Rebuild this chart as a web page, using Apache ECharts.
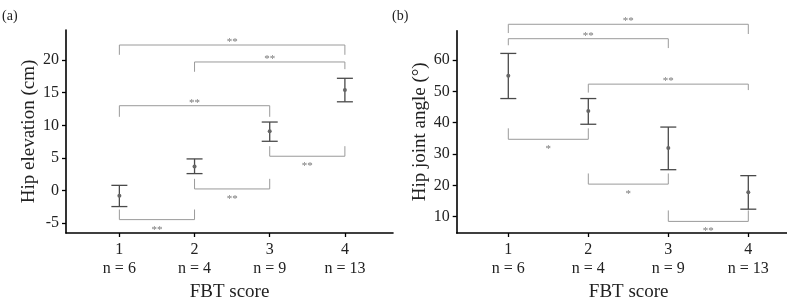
<!DOCTYPE html>
<html>
<head>
<meta charset="utf-8">
<script src="https://cdn.jsdelivr.net/npm/echarts@6/dist/echarts.min.js"></script>
<style>
  html, body { margin: 0; padding: 0; background: #fff; }
  #chart { width: 787px; height: 303px; }
</style>
</head>
<body>
<div id="chart"></div>
<script>
const scores = [1, 2, 3, 4]
const groupSizes = [6, 4, 9, 13]

// (a) hip elevation (cm): mean and error bar ends
const elevMean = [-0.8, 3.7, 9.1, 15.4]
const elevLow = [-2.45, 2.6, 7.55, 13.6]
const elevHigh = [0.8, 4.85, 10.5, 17.2]
const elevTicks = [-5, 0, 5, 10, 15, 20]
// significance brackets: [from, to, bar level, left leg end, right leg end]
const elevPairs = [
  [1, 4, 22.3, 20.8, 20.8],
  [2, 4, 19.7, 18.2, 18.6],
  [1, 3, 13.0, 11.3, 11.3],
  [3, 4, 5.26, 6.8, 6.8],
  [2, 3, 0.25, 1.8, 1.8],
  [1, 2, -4.45, -2.9, -2.9]
]
const elevMarks = ['**', '**', '**', '**', '**', '**']

// (b) hip joint angle (deg)
const angleMean = [55.0, 43.7, 31.9, 17.8]
const angleLow = [47.7, 39.5, 25.0, 12.4]
const angleHigh = [62.1, 47.7, 38.6, 23.1]
const angleTicks = [10, 20, 30, 40, 50, 60]
const anglePairs = [
  [1, 4, 71.4, 68.6, 68.3],
  [1, 3, 66.8, 64.7, 63.8],
  [2, 4, 52.3, 49.6, 50.4],
  [1, 2, 34.7, 38.2, 38.2],
  [2, 3, 20.4, 23.8, 23.8],
  [3, 4, 8.5, 12.0, 12.0]
]
const angleMarks = ['**', '**', '**', '*', '*', '**']

const serif = 'Liberation Serif'

const errorBars = (mean, low, high, idx) => ({
  type: 'custom',
  xAxisIndex: idx,
  yAxisIndex: idx,
  data: scores.map((s, i) => [s, mean[i], low[i], high[i]]),
  renderItem: (params, api) => {
    const c = api.coord([api.value(0), api.value(1)])
    const lo = api.coord([api.value(0), api.value(2)])
    const hi = api.coord([api.value(0), api.value(3)])
    const w = 8
    const stroke = { stroke: '#4a4a4a', lineWidth: 1.3 }
    return {
      type: 'group',
      children: [
        { type: 'line', shape: { x1: lo[0], y1: lo[1], x2: hi[0], y2: hi[1] }, style: stroke },
        { type: 'line', shape: { x1: lo[0] - w, y1: lo[1], x2: lo[0] + w, y2: lo[1] }, style: stroke },
        { type: 'line', shape: { x1: hi[0] - w, y1: hi[1], x2: hi[0] + w, y2: hi[1] }, style: stroke },
        { type: 'circle', shape: { cx: c[0], cy: c[1], r: 2 }, style: { fill: '#666' } }
      ]
    }
  }
})

const brackets = (pairs, marks, idx) => ({
  type: 'custom',
  xAxisIndex: idx,
  yAxisIndex: idx,
  clip: false,
  data: pairs,
  renderItem: (params, api) => {
    const p = pairs[params.dataIndex]
    const a = api.coord([p[0], p[3]])
    const b1 = api.coord([p[0], p[2]])
    const b2 = api.coord([p[1], p[2]])
    const d = api.coord([p[1], p[4]])
    // legs hang down -> mark sits above the bar, otherwise below
    const above = p[3] < p[2]
    return {
      type: 'group',
      children: [
        {
          type: 'polyline',
          shape: { points: [a, b1, b2, d] },
          style: { stroke: '#9a9a9a', lineWidth: 1, fill: 'none' }
        },
        {
          type: 'text',
          x: (b1[0] + b2[0]) / 2,
          y: above ? b1[1] - 3 : b1[1] + 10,
          style: {
            text: marks[params.dataIndex],
            fill: '#777',
            fontSize: 11,
            fontFamily: serif,
            textAlign: 'center',
            textVerticalAlign: 'middle'
          }
        }
      ]
    }
  }
})

const axisLine = { onZero: false, lineStyle: { color: '#000', width: 1.6 } }

const xAxis = (idx, min, max) => ({
  type: 'value',
  gridIndex: idx,
  min,
  max,
  axisLine,
  axisTick: { customValues: scores, length: 4, lineStyle: { color: '#000', width: 1.3 } },
  axisLabel: {
    customValues: scores,
    formatter: (v) => `${v}\nn = ${groupSizes[scores.indexOf(v)]}`,
    fontSize: 16,
    lineHeight: 19,
    margin: 7,
    color: '#222',
    fontFamily: serif
  },
  splitLine: { show: false },
  name: 'FBT score',
  nameLocation: 'middle',
  nameGap: 50,
  nameTextStyle: { fontSize: 19, color: '#222', fontFamily: serif }
})

const yAxis = (idx, min, max, ticks, name) => ({
  type: 'value',
  gridIndex: idx,
  min,
  max,
  axisLine,
  axisTick: { customValues: ticks, length: 4, lineStyle: { color: '#000', width: 1.3 } },
  axisLabel: { customValues: ticks, fontSize: 16, margin: 7, color: '#222', fontFamily: serif },
  splitLine: { show: false },
  name,
  nameLocation: 'middle',
  nameGap: 27,
  nameTextStyle: { fontSize: 19, color: '#222', fontFamily: serif }
})

const chart = echarts.init(document.getElementById('chart'), null, { renderer: 'canvas' })
chart.setOption({
  animation: false,
  backgroundColor: '#fff',
  grid: [
    { left: 66, top: 30, width: 327, height: 203, outerBoundsMode: 'none', containLabel: false },
    { left: 456.7, top: 30.7, width: 344, height: 202.3, outerBoundsMode: 'none', containLabel: false }
  ],
  xAxis: [xAxis(0, 0.29, 4.64), xAxis(1, 0.355, 4.655)],
  yAxis: [
    yAxis(0, -6.5, 24.6, elevTicks, 'Hip elevation (cm)'),
    yAxis(1, 4.8, 69.35, angleTicks, 'Hip joint angle (°)')
  ],
  graphic: [
    { type: 'text', left: 2, top: 9, style: { text: '(a)', fontSize: 14, fontFamily: serif, fill: '#222' } },
    { type: 'text', left: 392, top: 9, style: { text: '(b)', fontSize: 14, fontFamily: serif, fill: '#222' } }
  ],
  series: [
    brackets(elevPairs, elevMarks, 0),
    errorBars(elevMean, elevLow, elevHigh, 0),
    brackets(anglePairs, angleMarks, 1),
    errorBars(angleMean, angleLow, angleHigh, 1)
  ]
})
</script>
</body>
</html>
